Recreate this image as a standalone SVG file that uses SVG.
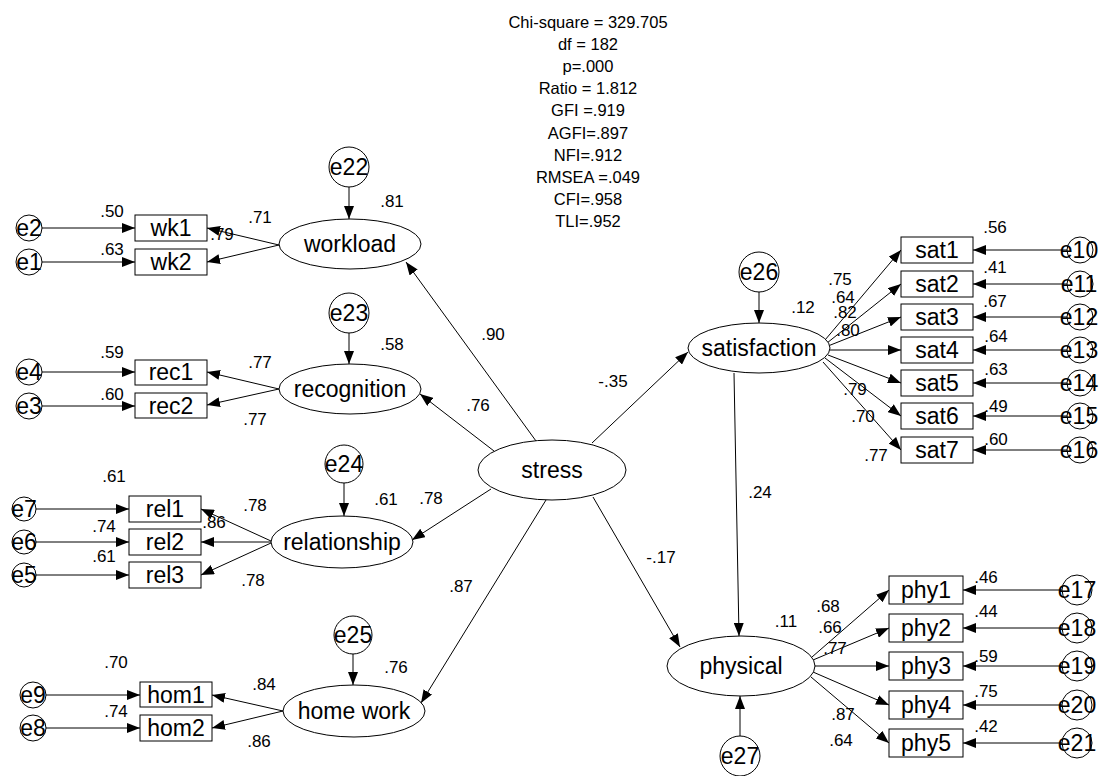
<svg xmlns="http://www.w3.org/2000/svg" width="1102" height="776" viewBox="0 0 1102 776">
<defs>
<marker id="ah" markerUnits="userSpaceOnUse" markerWidth="14" markerHeight="10" refX="13" refY="5" orient="auto">
<path d="M0,0 L13,5 L0,10 z" fill="#000"/>
</marker>
<style>
text{font-family:"Liberation Sans",Arial,sans-serif;fill:#000}
.t{font-size:23px;text-anchor:middle}
.e{font-size:23px;text-anchor:middle}
.l{font-size:17px;text-anchor:middle}
.s{font-size:16.5px;text-anchor:middle}
rect,ellipse,circle{fill:#fff;stroke:#000;stroke-width:1}
#conn line{stroke:#000;stroke-width:1;marker-end:url(#ah)}
</style>
</defs>
<rect x="0" y="0" width="1102" height="776" style="stroke:none"/>

<g id="stats">
<text class="s" x="588" y="28">Chi-square = 329.705</text>
<text class="s" x="588" y="50">df = 182</text>
<text class="s" x="588" y="72">p=.000</text>
<text class="s" x="588" y="94">Ratio = 1.812</text>
<text class="s" x="588" y="116">GFI =.919</text>
<text class="s" x="588" y="139">AGFI=.897</text>
<text class="s" x="588" y="161">NFI=.912</text>
<text class="s" x="588" y="183">RMSEA =.049</text>
<text class="s" x="588" y="205">CFI=.958</text>
<text class="s" x="588" y="227">TLI=.952</text>
</g>

<g id="conn">
<line x1="42" y1="228" x2="135" y2="228"/>
<line x1="42" y1="262" x2="135" y2="262"/>
<line x1="279" y1="245" x2="207" y2="228"/>
<line x1="279" y1="245" x2="207" y2="262"/>
<line x1="349" y1="187" x2="349" y2="219"/>
<line x1="536" y1="441" x2="406" y2="262"/>

<line x1="42" y1="372" x2="135" y2="372"/>
<line x1="42" y1="406" x2="135" y2="406"/>
<line x1="279" y1="389" x2="207" y2="372"/>
<line x1="279" y1="389" x2="207" y2="405"/>
<line x1="349" y1="333" x2="349" y2="364"/>
<line x1="494" y1="451" x2="420" y2="394"/>

<line x1="36" y1="509" x2="129" y2="509"/>
<line x1="36" y1="542" x2="129" y2="542"/>
<line x1="36" y1="575" x2="129" y2="575"/>
<line x1="271" y1="541" x2="201" y2="509"/>
<line x1="271" y1="542" x2="201" y2="542"/>
<line x1="271" y1="543" x2="201" y2="575"/>
<line x1="344" y1="483" x2="344" y2="516"/>
<line x1="491" y1="489" x2="412" y2="540"/>

<line x1="46" y1="695" x2="140" y2="695"/>
<line x1="46" y1="728" x2="140" y2="728"/>
<line x1="283" y1="711" x2="212" y2="695"/>
<line x1="283" y1="711" x2="212" y2="728"/>
<line x1="353" y1="654" x2="353" y2="685"/>
<line x1="546" y1="500" x2="421" y2="703"/>

<line x1="592" y1="443" x2="688" y2="352"/>
<line x1="759" y1="292" x2="759" y2="323"/>
<line x1="825" y1="340" x2="901" y2="250"/>
<line x1="827" y1="343" x2="901" y2="284"/>
<line x1="828" y1="346" x2="901" y2="317"/>
<line x1="830" y1="350" x2="901" y2="350"/>
<line x1="828" y1="355" x2="901" y2="383"/>
<line x1="825" y1="358" x2="901" y2="416"/>
<line x1="823" y1="362" x2="901" y2="450"/>
<line x1="1067" y1="250" x2="973" y2="250"/>
<line x1="1067" y1="284" x2="973" y2="284"/>
<line x1="1067" y1="317" x2="973" y2="317"/>
<line x1="1067" y1="350" x2="973" y2="350"/>
<line x1="1067" y1="383" x2="973" y2="383"/>
<line x1="1067" y1="416" x2="973" y2="416"/>
<line x1="1067" y1="450" x2="973" y2="450"/>
<line x1="734" y1="373" x2="739" y2="636"/>

<line x1="593" y1="497" x2="680" y2="647"/>
<line x1="740" y1="736" x2="740" y2="696"/>
<line x1="812" y1="657" x2="889" y2="590"/>
<line x1="813" y1="660" x2="889" y2="628"/>
<line x1="815" y1="666" x2="889" y2="666"/>
<line x1="813" y1="672" x2="889" y2="705"/>
<line x1="811" y1="677" x2="889" y2="743"/>
<line x1="1062" y1="590" x2="963" y2="590"/>
<line x1="1062" y1="628" x2="963" y2="628"/>
<line x1="1062" y1="666" x2="963" y2="666"/>
<line x1="1062" y1="705" x2="963" y2="705"/>
<line x1="1062" y1="743" x2="963" y2="743"/>
</g>

<g id="stress"><ellipse cx="552" cy="470" rx="74" ry="30"/><text class="t" x="552" y="478">stress</text></g>

<g id="workload"><ellipse cx="350" cy="244" rx="71" ry="25"/><text class="t" x="350" y="252">workload</text></g>
<g id="e22"><circle cx="349" cy="167" r="20"/><text class="e" x="349" y="175">e22</text></g>
<g id="wk1"><rect x="135" y="215" width="72" height="26"/><text class="t" x="171" y="236">wk1</text></g>
<g id="wk2"><rect x="135" y="249" width="72" height="26"/><text class="t" x="171" y="270">wk2</text></g>
<g id="e2"><circle cx="29" cy="228" r="13"/><text class="e" x="29" y="236">e2</text></g>
<g id="e1"><circle cx="29" cy="262" r="13"/><text class="e" x="29" y="270">e1</text></g>

<g id="recognition"><ellipse cx="350" cy="389" rx="71" ry="25"/><text class="t" x="350" y="397">recognition</text></g>
<g id="e23"><circle cx="349" cy="313" r="20"/><text class="e" x="349" y="321">e23</text></g>
<g id="rec1"><rect x="135" y="360" width="72" height="25"/><text class="t" x="171" y="380">rec1</text></g>
<g id="rec2"><rect x="135" y="393" width="72" height="25"/><text class="t" x="171" y="414">rec2</text></g>
<g id="e4"><circle cx="29" cy="372" r="13"/><text class="e" x="29" y="380">e4</text></g>
<g id="e3"><circle cx="29" cy="406" r="13"/><text class="e" x="29" y="414">e3</text></g>

<g id="relationship"><ellipse cx="342" cy="542" rx="71" ry="26"/><text class="t" x="342" y="550">relationship</text></g>
<g id="e24"><circle cx="344" cy="464" r="19"/><text class="e" x="344" y="472">e24</text></g>
<g id="rel1"><rect x="129" y="496" width="72" height="26"/><text class="t" x="165" y="517">rel1</text></g>
<g id="rel2"><rect x="129" y="529" width="72" height="26"/><text class="t" x="165" y="550">rel2</text></g>
<g id="rel3"><rect x="129" y="562" width="72" height="26"/><text class="t" x="165" y="583">rel3</text></g>
<g id="e7"><circle cx="24" cy="509" r="12"/><text class="e" x="24" y="517">e7</text></g>
<g id="e6"><circle cx="24" cy="542" r="12"/><text class="e" x="24" y="550">e6</text></g>
<g id="e5"><circle cx="24" cy="575" r="12"/><text class="e" x="24" y="583">e5</text></g>

<g id="homework"><ellipse cx="354" cy="711" rx="71" ry="26"/><text class="t" x="354" y="719">home work</text></g>
<g id="e25"><circle cx="353" cy="635" r="19"/><text class="e" x="353" y="643">e25</text></g>
<g id="hom1"><rect x="140" y="682" width="72" height="25"/><text class="t" x="176" y="703">hom1</text></g>
<g id="hom2"><rect x="140" y="715" width="72" height="26"/><text class="t" x="176" y="736">hom2</text></g>
<g id="e9"><circle cx="33" cy="695" r="13"/><text class="e" x="33" y="703">e9</text></g>
<g id="e8"><circle cx="33" cy="728" r="13"/><text class="e" x="33" y="736">e8</text></g>

<g id="satisfaction"><ellipse cx="759" cy="348" rx="71" ry="25"/><text class="t" x="759" y="356">satisfaction</text></g>
<g id="e26"><circle cx="759" cy="272" r="20"/><text class="e" x="759" y="280">e26</text></g>
<g id="sat1"><rect x="901" y="237" width="72" height="26"/><text class="t" x="937" y="258">sat1</text></g>
<g id="sat2"><rect x="901" y="271" width="72" height="26"/><text class="t" x="937" y="292">sat2</text></g>
<g id="sat3"><rect x="901" y="304" width="72" height="26"/><text class="t" x="937" y="325">sat3</text></g>
<g id="sat4"><rect x="901" y="337" width="72" height="26"/><text class="t" x="937" y="358">sat4</text></g>
<g id="sat5"><rect x="901" y="370" width="72" height="26"/><text class="t" x="937" y="391">sat5</text></g>
<g id="sat6"><rect x="901" y="403" width="72" height="26"/><text class="t" x="937" y="424">sat6</text></g>
<g id="sat7"><rect x="901" y="437" width="72" height="26"/><text class="t" x="937" y="458">sat7</text></g>
<g id="e10"><circle cx="1080" cy="250" r="13"/><text class="e" x="1079" y="258">e10</text></g>
<g id="e11"><circle cx="1080" cy="284" r="13"/><text class="e" x="1079" y="292">e11</text></g>
<g id="e12"><circle cx="1080" cy="317" r="13"/><text class="e" x="1079" y="325">e12</text></g>
<g id="e13"><circle cx="1080" cy="350" r="13"/><text class="e" x="1079" y="358">e13</text></g>
<g id="e14"><circle cx="1080" cy="383" r="13"/><text class="e" x="1079" y="391">e14</text></g>
<g id="e15"><circle cx="1080" cy="416" r="13"/><text class="e" x="1079" y="424">e15</text></g>
<g id="e16"><circle cx="1080" cy="450" r="13"/><text class="e" x="1079" y="458">e16</text></g>

<g id="physical"><ellipse cx="741" cy="666" rx="74" ry="30"/><text class="t" x="741" y="674">physical</text></g>
<g id="e27"><circle cx="740" cy="756" r="20"/><text class="e" x="740" y="764">e27</text></g>
<g id="phy1"><rect x="889" y="576" width="74" height="28"/><text class="t" x="926" y="598">phy1</text></g>
<g id="phy2"><rect x="889" y="614" width="74" height="28"/><text class="t" x="926" y="636">phy2</text></g>
<g id="phy3"><rect x="889" y="652" width="74" height="28"/><text class="t" x="926" y="674">phy3</text></g>
<g id="phy4"><rect x="889" y="691" width="74" height="28"/><text class="t" x="926" y="713">phy4</text></g>
<g id="phy5"><rect x="889" y="729" width="74" height="28"/><text class="t" x="926" y="751">phy5</text></g>
<g id="e17"><circle cx="1077" cy="590" r="15"/><text class="e" x="1077" y="598">e17</text></g>
<g id="e18"><circle cx="1077" cy="628" r="15"/><text class="e" x="1077" y="636">e18</text></g>
<g id="e19"><circle cx="1077" cy="666" r="15"/><text class="e" x="1077" y="674">e19</text></g>
<g id="e20"><circle cx="1077" cy="705" r="15"/><text class="e" x="1077" y="713">e20</text></g>
<g id="e21"><circle cx="1077" cy="743" r="15"/><text class="e" x="1077" y="751">e21</text></g>

<g id="labels">
<text class="l" x="112" y="217">.50</text>
<text class="l" x="112" y="255">.63</text>
<text class="l" x="260" y="223">.71</text>
<text class="l" x="222" y="240">.79</text>
<text class="l" x="392" y="207">.81</text>
<text class="l" x="112" y="358">.59</text>
<text class="l" x="112" y="400">.60</text>
<text class="l" x="260" y="368">.77</text>
<text class="l" x="255" y="425">.77</text>
<text class="l" x="392" y="350">.58</text>
<text class="l" x="114" y="482">.61</text>
<text class="l" x="104" y="532">.74</text>
<text class="l" x="104" y="562">.61</text>
<text class="l" x="255" y="511">.78</text>
<text class="l" x="214" y="528">.86</text>
<text class="l" x="253" y="586">.78</text>
<text class="l" x="386" y="505">.61</text>
<text class="l" x="431" y="504">.78</text>
<text class="l" x="116" y="668">.70</text>
<text class="l" x="116" y="717">.74</text>
<text class="l" x="264" y="690">.84</text>
<text class="l" x="259" y="747">.86</text>
<text class="l" x="396" y="673">.76</text>
<text class="l" x="493" y="340">.90</text>
<text class="l" x="478" y="411">.76</text>
<text class="l" x="613" y="387">-.35</text>
<text class="l" x="661" y="563">-.17</text>
<text class="l" x="461" y="592">.87</text>
<text class="l" x="760" y="498">.24</text>
<text class="l" x="995" y="233">.56</text>
<text class="l" x="995" y="273">.41</text>
<text class="l" x="995" y="307">.67</text>
<text class="l" x="996" y="342">.64</text>
<text class="l" x="996" y="375">.63</text>
<text class="l" x="996" y="412">.49</text>
<text class="l" x="996" y="445">.60</text>
<text class="l" x="803" y="313">.12</text>
<text class="l" x="840" y="285">.75</text>
<text class="l" x="843" y="303">.64</text>
<text class="l" x="845" y="318">.82</text>
<text class="l" x="848" y="336">.80</text>
<text class="l" x="855" y="395">.79</text>
<text class="l" x="863" y="422">.70</text>
<text class="l" x="876" y="461">.77</text>
<text class="l" x="986" y="583">.46</text>
<text class="l" x="986" y="617">.44</text>
<text class="l" x="986" y="662">.59</text>
<text class="l" x="986" y="697">.75</text>
<text class="l" x="986" y="732">.42</text>
<text class="l" x="786" y="627">.11</text>
<text class="l" x="828" y="612">.68</text>
<text class="l" x="830" y="633">.66</text>
<text class="l" x="835" y="654">.77</text>
<text class="l" x="843" y="720">.87</text>
<text class="l" x="841" y="746">.64</text>
</g>
</svg>
